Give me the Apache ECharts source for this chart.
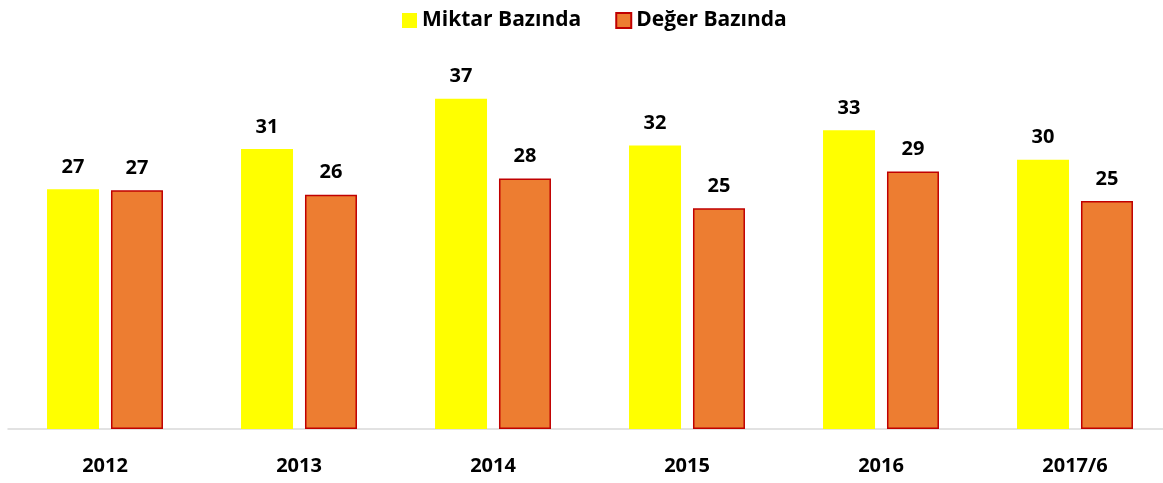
<!DOCTYPE html>
<html>
<head>
<meta charset="utf-8">
<script src="https://cdn.jsdelivr.net/npm/echarts@6/dist/echarts.min.js"></script>
<style>
  html, body { margin: 0; padding: 0; background: #fff; }
  #chart { width: 1163px; height: 483px; }
</style>
</head>
<body>
<div id="chart"></div>
<script>
const years = ['2012', '2013', '2014', '2015', '2016', '2017/6']
const seriesNames = ['Miktar Bazında', 'Değer Bazında']
const miktar = [26.7, 31.2, 36.8, 31.6, 33.3, 30.0]
const deger = [26.6, 26.1, 27.9, 24.6, 28.7, 25.4]

const font = '"Open Sans", "Noto Sans", sans-serif'

const labelOpt = {
  show: true,
  position: 'top',
  distance: 12,
  color: '#000',
  fontFamily: font,
  fontWeight: 'bold',
  fontSize: 20,
  formatter: p => Math.round(p.value)
}

const chart = echarts.init(document.getElementById('chart'))
const option = {
  animation: false,
  legend: {
    left: 397,
    top: 5,
    icon: 'rect',
    itemWidth: 15,
    itemHeight: 15,
    itemGap: 34,
    data: seriesNames,
    textStyle: {
      color: '#000',
      fontFamily: font,
      fontWeight: 'bold',
      fontSize: 21
    }
  },
  grid: {
    left: 8,
    right: -9,
    top: 70,
    height: 359,
    containLabel: false,
    outerBoundsMode: 'none'
  },
  xAxis: {
    type: 'category',
    data: years,
    axisTick: { show: false },
    axisLine: {
      lineStyle: { color: '#d9d9d9', width: 1.5 }
    },
    axisLabel: {
      color: '#000',
      fontFamily: font,
      fontWeight: 'bold',
      fontSize: 20,
      margin: 27
    }
  },
  yAxis: {
    type: 'value',
    min: 0,
    max: 40,
    show: false,
    splitLine: { show: false }
  },
  series: [
    {
      name: seriesNames[0],
      type: 'bar',
      data: miktar,
      barWidth: 52,
      barGap: '23%',
      itemStyle: { color: '#ffff00' },
      label: labelOpt
    },
    {
      name: seriesNames[1],
      type: 'bar',
      data: deger,
      barWidth: 52,
      itemStyle: {
        color: '#ed7d31',
        borderColor: '#c00000',
        borderWidth: 1.5
      },
      label: labelOpt
    }
  ]
}
chart.setOption(option)
</script>
</body>
</html>
